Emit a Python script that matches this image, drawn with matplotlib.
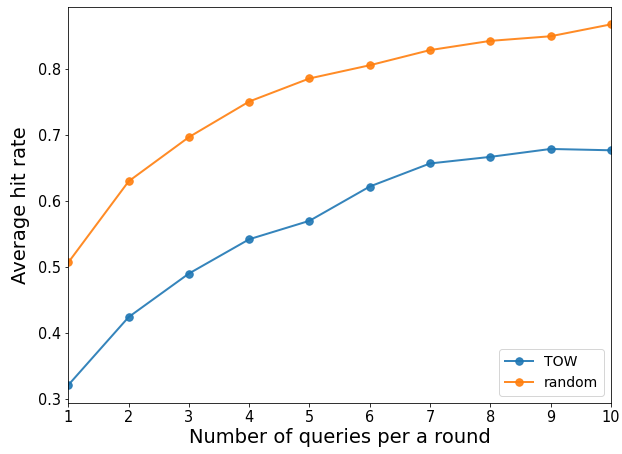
import matplotlib
matplotlib.use("Agg")
import matplotlib.pyplot as plt

queries = [1, 2, 3, 4, 5, 6, 7, 8, 9, 10]
tow = [0.321, 0.424, 0.490, 0.542, 0.570, 0.622, 0.657, 0.667, 0.679, 0.677]
rand = [0.507, 0.630, 0.697, 0.751, 0.786, 0.806, 0.829, 0.843, 0.850, 0.868]

dpi = 72
fig = plt.figure(figsize=(622 / dpi, 454 / dpi), dpi=dpi)
ax = fig.add_axes([0.110, 0.113, 0.872, 0.871])

ax.plot(queries, tow, marker="o", color="tab:blue", alpha=0.9, lw=2, ms=7.5, label="TOW")
ax.plot(queries, rand, marker="o", color="tab:orange", alpha=0.9, lw=2, ms=7.5, label="random")

ax.set_xlim(1, 10)
ax.set_ylim(0.294, 0.894)
ax.set_xticks(queries)
ax.set_yticks([0.3, 0.4, 0.5, 0.6, 0.7, 0.8])
ax.tick_params(labelsize=14.5)
ax.set_xlabel("Number of queries per a round", fontsize=19.5, labelpad=3)
ax.set_ylabel("Average hit rate", fontsize=19.5, labelpad=8)
ax.legend(loc="lower right", fontsize=14)

fig.savefig("out.png", dpi=dpi)
